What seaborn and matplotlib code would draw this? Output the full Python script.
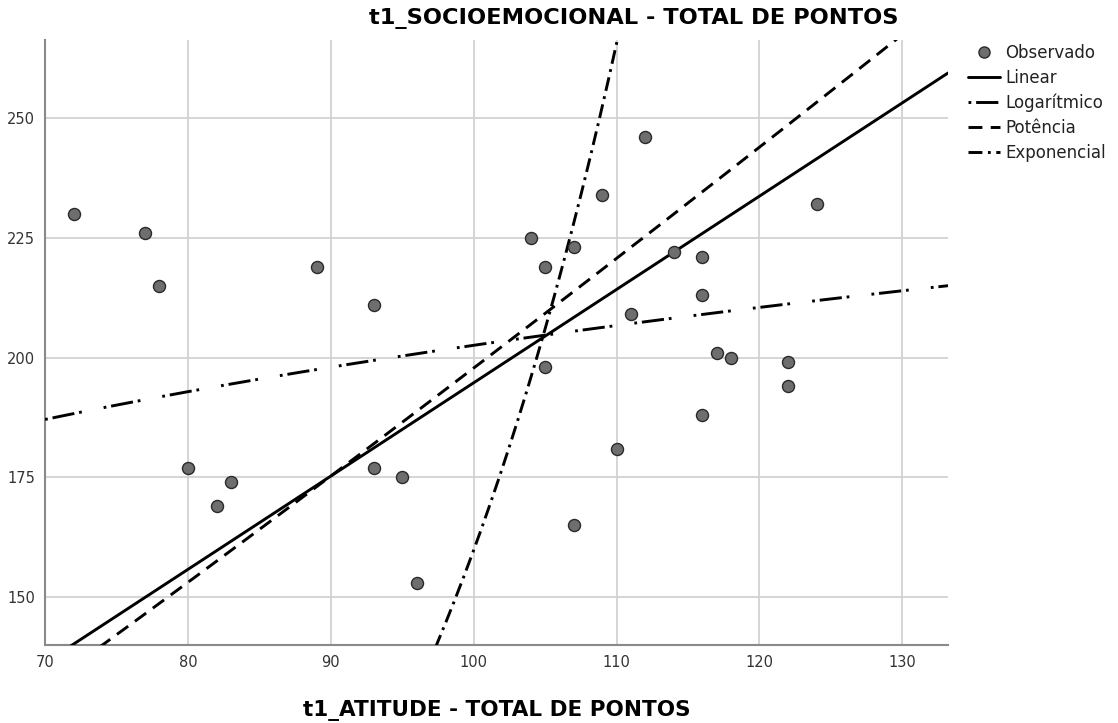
import numpy as np
import pandas as pd
import seaborn as sns
import matplotlib.pyplot as plt
from matplotlib.lines import Line2D

atitude = [72, 77, 78, 80, 82, 83, 89, 93, 93, 95, 96, 104, 105, 105, 107,
           107, 109, 110, 111, 112, 114, 116, 116, 116, 117, 118, 122, 122, 124]
socio = [230, 226, 215, 177, 169, 174, 219, 211, 177, 175, 153, 225, 219, 198, 223,
         165, 234, 181, 209, 246, 222, 221, 213, 188, 201, 200, 199, 194, 232]

# model coefficients (b0, b1)
linear_coef = [-0.06, 1.948]   # y = b0 + b1*x
log_coef = [2.7, 43.4]         # y = b0 + b1*ln(x)
power_coef = [0.996, 1.149]    # y = b0 * x^b1
exp_coef = [0.994, 0.0508]     # y = b0 * exp(b1*x)

model_names = ['Linear', 'Logarítmico', 'Potência', 'Exponencial']

sns.set_style('white')
plt.rcParams['font.family'] = ['DejaVu Sans']
plt.rcParams['lines.scale_dashes'] = False

fig = plt.figure(figsize=(11.18, 7.23), dpi=100)
ax = fig.add_axes([0.0403, 0.1079, 0.8077, 0.8368])

xs = np.linspace(70, 133.2, 400)
curves = pd.DataFrame({
    'x': np.tile(xs, 4),
    'y': np.concatenate([
        linear_coef[0] + linear_coef[1] * xs,
        log_coef[0] + log_coef[1] * np.log(xs),
        power_coef[0] * xs ** power_coef[1],
        exp_coef[0] * np.exp(exp_coef[1] * xs),
    ]),
    'modelo': np.repeat(model_names, len(xs)),
})

dash_styles = {
    'Linear': '',
    'Logarítmico': (2, 3.5, 16, 3.5, 2, 16),
    'Potência': (10, 6),
    'Exponencial': (10, 4, 2, 4),
}

sns.lineplot(data=curves, x='x', y='y', hue='modelo', style='modelo',
             palette=['black'] * 4, dashes=dash_styles, linewidth=2.1,
             sort=False, legend=False, ax=ax, zorder=3)

pts = pd.DataFrame({'atitude': atitude, 'socio': socio})
sns.scatterplot(data=pts, x='atitude', y='socio', s=75, color='#6e6e6e',
                edgecolor='#2a2a2a', linewidth=1.0, ax=ax, zorder=4)

ax.set_xlim(70, 133.2)
ax.set_ylim(140, 266.3)
ax.set_xticks([70, 80, 90, 100, 110, 120, 130])
ax.set_yticks([150, 175, 200, 225, 250])
ax.grid(True, color='#d2d2d2', linewidth=1.3)
ax.set_axisbelow(True)
for side in ['top', 'right']:
    ax.spines[side].set_visible(False)
for side in ['left', 'bottom']:
    ax.spines[side].set_color('#8a8a8a')
    ax.spines[side].set_linewidth(1.5)
ax.tick_params(axis='both', length=0, labelsize=10.5, labelcolor='#333333', pad=7)
ax.set_xlabel('t1_ATITUDE - TOTAL DE PONTOS', fontsize=15.5, fontweight='bold',
              color='black', labelpad=22)
ax.set_ylabel('')

fig.text(0.567, 0.974, 't1_SOCIOEMOCIONAL - TOTAL DE PONTOS', ha='center', va='center',
         fontsize=16.2, fontweight='bold', color='black')

handles = [Line2D([], [], linestyle='none', marker='o', markersize=8,
                  markerfacecolor='#6e6e6e', markeredgecolor='#2a2a2a')]
for name in model_names:
    d = dash_styles[name]
    if d == '':
        handles.append(Line2D([], [], color='black', linewidth=2.1, linestyle='-'))
    else:
        handles.append(Line2D([], [], color='black', linewidth=2.1, linestyle=(0, d)))
leg = ax.legend(handles, ['Observado'] + model_names, loc='upper left',
                bbox_to_anchor=(1.015, 1.005), frameon=False, fontsize=12,
                handlelength=1.9, handletextpad=0.3, labelspacing=0.42, borderaxespad=0)
for t in leg.get_texts():
    t.set_color('#222222')

fig.savefig('out.png', dpi=100)
